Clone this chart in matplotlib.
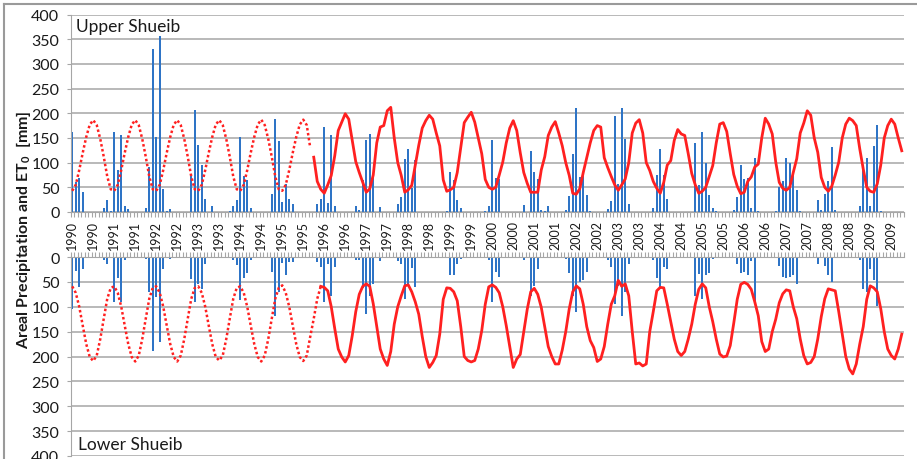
import numpy as np
import matplotlib
matplotlib.use('Agg')
import matplotlib.pyplot as plt
from matplotlib.lines import Line2D

plt.rcParams['font.family'] = ['Lato', 'DejaVu Sans']
plt.rcParams['mathtext.fontset'] = 'custom'
plt.rcParams['mathtext.rm'] = 'Lato'
plt.rcParams['mathtext.bf'] = 'Lato:bold'

# Monthly data, Jan 1990 - Oct 2009 (238 months)
years = list(range(1990, 2010))
tick_labels = [str(y) for y in years for _ in range(2)]  # every 6 months

# Areal precipitation [mm], Upper Shueib
precip_upper = [
    163, 60, 68, 41, 0, 0, 0, 0, 0, 8, 25, 2,        # 1990
    163, 86, 155, 12, 7, 0, 0, 0, 0, 9, 92, 331,     # 1991
    152, 356, 46, 2, 6, 0, 0, 0, 0, 0, 75, 206,      # 1992
    136, 96, 27, 0, 13, 0, 0, 0, 0, 3, 12, 24,       # 1993
    152, 72, 65, 8, 0, 0, 0, 0, 0, 37, 188, 144,     # 1994
    21, 57, 26, 16, 0, 0, 0, 0, 0, 0, 17, 27,        # 1995
    173, 19, 156, 13, 0, 0, 0, 0, 0, 13, 5, 65,      # 1996
    145, 158, 77, 1, 10, 0, 0, 0, 0, 17, 31, 107,    # 1997
    127, 49, 106, 0, 0, 0, 0, 0, 0, 0, 0, 3,         # 1998
    81, 64, 25, 9, 0, 0, 0, 0, 0, 0, 3, 12,          # 1999
    146, 69, 67, 0, 0, 0, 0, 0, 0, 15, 0, 124,       # 2000
    82, 67, 5, 3, 13, 0, 0, 0, 0, 5, 32, 118,        # 2001
    210, 71, 79, 35, 2, 0, 0, 0, 0, 7, 22, 194,      # 2002
    56, 211, 148, 17, 0, 0, 0, 0, 0, 0, 9, 75,       # 2003
    128, 75, 27, 0, 0, 0, 0, 0, 0, 0, 140, 55,       # 2004
    163, 99, 35, 8, 3, 0, 0, 0, 0, 4, 31, 96,        # 2005
    67, 69, 8, 110, 3, 0, 0, 0, 0, 2, 50, 62,        # 2006
    109, 99, 77, 44, 3, 0, 0, 0, 0, 24, 5, 37,       # 2007
    62, 132, 4, 0, 0, 0, 0, 0, 0, 12, 89, 109,       # 2008
    13, 134, 177, 3, 0, 0, 0, 0, 0, 0,               # 2009
]

# Areal precipitation [mm], Lower Shueib
precip_lower = [
    104, 29, 61, 25, 0, 0, 0, 0, 0, 6, 14, 0,        # 1990
    91, 43, 91, 7, 0, 0, 0, 0, 0, 4, 71, 188,        # 1991
    81, 171, 24, 0, 4, 0, 0, 0, 0, 0, 45, 91,        # 1992
    54, 64, 15, 0, 3, 0, 0, 0, 0, 3, 7, 16,          # 1993
    86, 43, 32, 6, 0, 0, 0, 0, 0, 31, 118, 71,       # 1994
    12, 37, 11, 11, 0, 0, 0, 0, 0, 0, 11, 21,        # 1995
    91, 14, 78, 21, 0, 0, 0, 0, 0, 7, 7, 63,         # 1996
    114, 78, 54, 0, 9, 0, 0, 0, 0, 9, 14, 84,        # 1997
    58, 23, 61, 0, 0, 0, 0, 0, 0, 0, 0, 0,           # 1998
    37, 37, 14, 5, 0, 0, 0, 0, 0, 0, 0, 7,           # 1999
    91, 31, 41, 0, 0, 0, 0, 0, 0, 7, 0, 78,          # 2000
    58, 24, 3, 3, 3, 0, 0, 0, 0, 4, 32, 78,          # 2001
    111, 51, 47, 31, 3, 0, 0, 0, 0, 7, 21, 94,       # 2002
    58, 118, 71, 14, 0, 0, 0, 0, 0, 0, 7, 43,        # 2003
    64, 21, 25, 0, 0, 0, 0, 0, 0, 0, 78, 34,         # 2004
    84, 37, 32, 4, 0, 0, 0, 0, 0, 0, 14, 32,         # 2005
    31, 37, 9, 90, 0, 0, 0, 0, 0, 3, 19, 41,         # 2006
    43, 41, 37, 54, 3, 0, 0, 0, 0, 14, 3, 19,        # 2007
    37, 51, 3, 0, 0, 0, 0, 0, 0, 7, 64, 71,          # 2008
    24, 47, 98, 3, 0, 0, 0, 0, 0, 0,                 # 2009
]

# ET0 [mm], Upper Shueib: estimated (Jan 1990 - Sep 1995), observed (Oct 1995 on)
et_upper_est = [
    43, 55, 85, 120, 152, 177, 186, 176, 148, 112, 72, 46,   # 1990
    43, 55, 85, 120, 152, 177, 186, 176, 148, 112, 72, 46,   # 1991
    43, 55, 85, 120, 152, 177, 186, 176, 148, 112, 72, 46,   # 1992
    43, 55, 85, 120, 152, 177, 186, 176, 148, 112, 72, 46,   # 1993
    43, 55, 85, 120, 152, 177, 187, 176, 148, 112, 72, 46,   # 1994
    43, 55, 85, 120, 152, 177, 187, 176, 130,                # 1995
]
et_upper_obs = [
    111, 62, 46,                                              # 1995
    38, 55, 74, 114, 165, 182, 199, 188, 145, 102, 80, 60,   # 1996
    40, 47, 75, 140, 172, 175, 205, 212, 150, 100, 74, 40,   # 1997
    45, 54, 95, 135, 170, 185, 196, 188, 160, 134, 65, 42,   # 1998
    45, 50, 80, 130, 181, 192, 202, 182, 150, 118, 66, 50,   # 1999
    46, 50, 75, 101, 140, 170, 185, 165, 120, 80, 58, 40,    # 2000
    40, 40, 85, 112, 155, 172, 183, 160, 134, 100, 74, 38,   # 2001
    36, 47, 80, 110, 140, 165, 175, 172, 110, 90, 72, 55,    # 2002
    44, 55, 67, 100, 160, 180, 187, 160, 100, 84, 62, 48,    # 2003
    38, 60, 95, 104, 145, 167, 158, 155, 118, 78, 55, 38,    # 2004
    42, 50, 72, 94, 140, 178, 181, 163, 118, 76, 52, 37,     # 2005
    40, 62, 71, 91, 97, 150, 190, 178, 158, 101, 60, 48,     # 2006
    44, 50, 80, 108, 160, 180, 205, 196, 150, 121, 70, 50,   # 2007
    42, 52, 75, 101, 150, 178, 190, 185, 175, 128, 87, 50,   # 2008
    42, 40, 57, 95, 150, 175, 188, 178, 150, 124,            # 2009
]

# ET0 [mm], Lower Shueib: estimated (Jan 1990 - Dec 1995), observed (Dec 1995 on)
et_lower_est = [
    59, 72, 100, 138, 175, 201, 209, 198, 165, 124, 84, 62,  # 1990
    59, 72, 100, 138, 175, 201, 210, 198, 165, 124, 84, 62,  # 1991
    59, 72, 100, 138, 175, 201, 210, 198, 165, 124, 84, 62,  # 1992
    59, 72, 100, 138, 175, 201, 208, 198, 165, 124, 84, 62,  # 1993
    59, 72, 100, 138, 175, 201, 210, 198, 165, 124, 84, 62,  # 1994
    57, 72, 100, 138, 175, 201, 209, 198, 160, 124, 84, 59,  # 1995
]
et_lower_obs = [
    59,                                                       # 1995
    61, 68, 100, 144, 185, 201, 211, 198, 158, 110, 75, 59,  # 1996
    54, 59, 94, 140, 185, 205, 218, 190, 135, 100, 78, 58,   # 1997
    56, 70, 90, 115, 160, 200, 222, 212, 198, 155, 85, 62,   # 1998
    63, 70, 88, 140, 200, 208, 211, 208, 185, 148, 95, 60,   # 1999
    56, 61, 72, 100, 138, 180, 222, 205, 196, 151, 105, 70,  # 2000
    63, 75, 101, 140, 180, 200, 215, 215, 187, 150, 104, 70, # 2001
    58, 64, 95, 140, 168, 182, 210, 205, 180, 135, 95, 78,   # 2002
    47, 59, 54, 78, 150, 215, 213, 219, 215, 150, 110, 68,   # 2003
    61, 62, 95, 130, 165, 190, 198, 190, 165, 135, 95, 65,   # 2004
    54, 62, 100, 130, 165, 195, 201, 199, 178, 133, 85, 55,  # 2005
    51, 55, 65, 90, 118, 170, 190, 185, 150, 125, 92, 74,    # 2006
    66, 68, 100, 124, 165, 198, 215, 212, 200, 165, 120, 84, # 2007
    64, 66, 68, 110, 155, 200, 225, 235, 215, 175, 140, 85,  # 2008
    58, 62, 70, 104, 150, 185, 198, 205, 185, 155,           # 2009
]

n = len(precip_upper)
months = np.arange(n)
blue = '#2E74C6'
red = '#FF2020'
grey = '#A6A6A6'
ink = '#1A1A1A'
yticks = list(range(0, 401, 50))

W, H = 917, 460
fig = plt.figure(figsize=(W / 100, H / 100), dpi=100)
left, right = 70.5 / W, 903.5 / W
ax1 = fig.add_axes([left, 1 - 213 / H, right - left, (213 - 15.5) / H])
ax2 = fig.add_axes([left, 1 - 457 / H, right - left, (457 - 258) / H])

for ax in (ax1, ax2):
    ax.set_xlim(-0.5, n - 0.5)
    ax.set_yticks(yticks)
    ax.set_yticklabels([str(v) for v in yticks], fontsize=11.5, color=ink)
    ax.tick_params(axis='y', length=3, color=grey, pad=5)
    ax.grid(axis='y', color=grey, lw=1.1)
    ax.set_axisbelow(True)
    for s in ax.spines.values():
        s.set_visible(False)
    ax.spines['left'].set_visible(True)
    ax.spines['left'].set_color(grey)
    ax.set_xticks(np.arange(-0.5, n, 1), minor=True)
    ax.tick_params(axis='x', which='minor', length=3.5, color=grey, width=0.8)

# upper panel
ax1.set_ylim(0, 400)
ax1.bar(months, precip_upper, width=0.55, color=blue, zorder=2)
ax1.plot(np.arange(len(et_upper_est)), et_upper_est, color=red, lw=1.8,
         ls=(0, (1, 1)), zorder=3)
ax1.plot(np.arange(n - len(et_upper_obs), n), et_upper_obs, color=red, lw=2.0, zorder=3)
ax1.spines['bottom'].set_visible(True)
ax1.spines['bottom'].set_color(grey)
ax1.set_xticks(np.arange(0, n, 6))
ax1.set_xticklabels(tick_labels[:len(range(0, n, 6))], rotation=90, fontsize=9, color=ink)
ax1.tick_params(axis='x', which='major', length=0, pad=6)
ax1.text(76 / W, 1 - 19 / H, 'Upper Shueib', transform=fig.transFigure,
         fontsize=12.5, va='top', ha='left', color=ink)

# lower panel (inverted)
ax2.set_ylim(400, 0)
ax2.bar(months, precip_lower, width=0.55, color=blue, zorder=2)
ax2.plot(np.arange(len(et_lower_est)), et_lower_est, color=red, lw=1.8,
         ls=(0, (1, 1)), zorder=3)
ax2.plot(np.arange(n - len(et_lower_obs), n), et_lower_obs, color=red, lw=2.0, zorder=3)
ax2.spines['top'].set_visible(True)
ax2.spines['top'].set_color(grey)
ax2.xaxis.tick_top()
ax2.set_xticks([])
ax2.tick_params(axis='x', which='minor', top=True, bottom=False)
ax2.text(78 / W, 1 - 437 / H, 'Lower Shueib', transform=fig.transFigure,
         fontsize=12.5, va='top', ha='left', color=ink)

fig.text(24 / W, 1 - 230 / H, r'Areal Precipitation and ET$_\mathbf{0}$  [mm]',
         rotation=90, fontsize=11.5, fontweight='bold', va='center', ha='center', color=ink)

# chart border (top and left edges visible)
fig.add_artist(Line2D([4 / W, 4 / W], [0, 1 - 5 / H], color='#9A9A9A', lw=1.5))
fig.add_artist(Line2D([4 / W, 1], [1 - 5 / H, 1 - 5 / H], color='#9A9A9A', lw=1.5))

fig.savefig('out.png', dpi=100)
